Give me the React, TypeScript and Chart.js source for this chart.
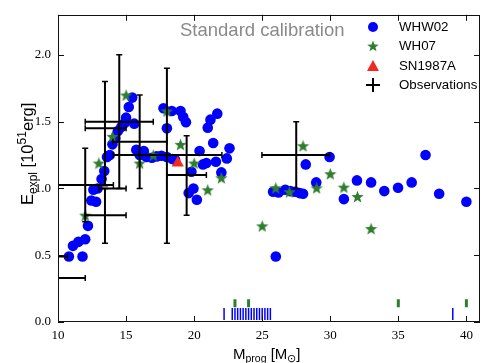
import React, { useEffect, useRef } from 'react';
import { Chart, registerables } from 'chart.js';

Chart.register(...registerables);

// WHW02 explosion energies (progenitor mass, energy)
const whwX = [10.8, 11.8, 11.1, 11.5, 12.0, 12.2, 12.45, 12.8, 12.6, 12.9, 13.2, 13.4, 13.6, 13.8, 14.0, 14.2, 14.4, 14.65, 14.9, 15.0, 15.6, 15.2, 15.45, 15.75, 16.0, 16.3, 16.5, 16.9, 17.25, 17.6, 18.0, 18.4, 18.6, 17.75, 18.36, 19.0, 19.2, 19.4, 18.0, 19.8, 19.95, 19.6, 20.2, 20.4, 20.65, 20.9, 21.6, 21.0, 21.2, 21.7, 21.4, 22.0, 22.4, 22.6, 25.8, 26.2, 26.7, 27.06, 27.4, 27.75, 28.0, 26.0, 28.2, 28.97, 29.95, 31.0, 31.96, 33.0, 33.97, 34.98, 35.98, 37.0, 38.0, 40.0];
const whwY = [0.49, 0.49, 0.57, 0.60, 0.62, 0.72, 0.91, 0.90, 0.99, 1.00, 1.07, 1.13, 1.235, 1.25, 1.33, 1.375, 1.43, 1.46, 1.49, 1.53, 1.485, 1.61, 1.68, 1.29, 1.25, 1.28, 1.235, 1.23, 1.24, 1.245, 1.235, 1.22, 1.215, 1.60, 1.58, 1.58, 1.535, 1.495, 1.45, 1.125, 1.0, 0.965, 0.915, 1.28, 1.18, 1.19, 1.20, 1.455, 1.515, 1.56, 1.34, 1.12, 1.225, 1.30, 0.975, 0.97, 0.99, 0.98, 0.975, 0.965, 0.96, 0.49, 1.18, 1.045, 1.235, 0.92, 1.06, 1.045, 0.98, 1.005, 1.045, 1.25, 0.96, 0.90];

// WH07 explosion energies
const whX = [12, 13, 14, 15, 16, 17, 18, 19, 20, 21, 22, 25, 26, 27, 28, 29, 30, 31, 32, 33];
const whY = [0.80, 1.19, 1.39, 1.70, 1.19, 1.25, 1.58, 1.33, 1.19, 0.99, 1.08, 0.72, 1.005, 0.975, 1.32, 1.005, 1.11, 1.01, 0.94, 0.70];

// SN1987A model
const snX = [18.8];
const snY = [1.19];

// Non-exploding models (rug ticks)
const whwFailX = [22.2, 22.8, 23.0, 23.2, 23.4, 23.6, 23.8, 24.0, 24.2, 24.4, 24.6, 24.8, 25.0, 25.2, 25.4, 25.6, 39.0];
const whFailX = [23, 24, 35, 40];
const whwFailLevel = 0.059;
const whFailLevel = 0.14;

// Observations with error ranges
const obsX = [14.5, 13.45, 12.0, 13.45, 18.0, 19.45, 16.0, 27.5, 14.0, 10.0, 9.5];
const obsXlo = [12.0, 12.0, 9.95, 12.0, 14.07, 18.0, 14.04, 24.98, 13.0, 8.0, 8.3];
const obsXhi = [17.0, 15.0, 14.07, 15.0, 22.04, 20.9, 18.0, 29.95, 15.0, 12.0, 10.7];
const obsY = [1.5, 1.45, 1.025, 0.80, 1.25, 1.10, 1.35, 1.25, 1.0, 0.33, 0.49];
const obsYlo = [1.0, 1.02, 0.75, 0.59, 0.59, 0.80, 1.0, 1.0, 1.0, 0.33, 0.49];
const obsYhi = [2.0, 1.80, 1.30, 1.0, 1.90, 1.395, 1.70, 1.50, 1.0, 0.33, 0.49];

const xTicks = [10, 15, 20, 25, 30, 35, 40];
const yTicks = [0, 0.5, 1.0, 1.5, 2.0];

const legendLabels = ['WHW02', 'WH07', 'SN1987A', 'Observations'];
const annotation = 'Standard calibration';

const BLUE = '#0000ff';
const GREEN = '#2f7d2f';
const RED = '#f02a1e';

function makeStar(size: number, color: string) {
  const c = document.createElement('canvas');
  c.width = size;
  c.height = size;
  const g = c.getContext('2d')!;
  drawStar(g, size / 2, size / 2 + size * 0.05, size / 2, color);
  return c;
}

function drawStar(g: CanvasRenderingContext2D, cx: number, cy: number, R: number, color: string) {
  const r = R * 0.42;
  g.fillStyle = color;
  g.beginPath();
  for (let i = 0; i < 10; i++) {
    const a = -Math.PI / 2 + (i * Math.PI) / 5;
    const rad = i % 2 === 0 ? R : r;
    g.lineTo(cx + rad * Math.cos(a), cy + rad * Math.sin(a));
  }
  g.closePath();
  g.fill();
}

type Part = { t: string; size: number; dy: number };

function drawRich(ctx: CanvasRenderingContext2D, parts: Part[], x: number, y: number, family: string) {
  let cx = x;
  for (const p of parts) {
    ctx.font = `${p.size}px ${family}`;
    ctx.fillText(p.t, cx, y + p.dy);
    cx += ctx.measureText(p.t).width;
  }
}

const overlayPlugin = {
  id: 'overlay',
  afterDraw(chart: any) {
    const { ctx, chartArea: a, scales } = chart;
    const sx = scales.x;
    const sy = scales.y;
    ctx.save();
    // spines
    ctx.strokeStyle = '#111';
    ctx.lineWidth = 1;
    ctx.strokeRect(Math.round(a.left) + 0.5, Math.round(a.top) + 0.5, Math.round(a.right - a.left) - 1, Math.round(a.bottom - a.top) - 1);
    // inward ticks
    ctx.beginPath();
    for (const v of xTicks) {
      const px = Math.round(sx.getPixelForValue(v)) + 0.5;
      ctx.moveTo(px, a.bottom);
      ctx.lineTo(px, a.bottom - 6);
      ctx.moveTo(px, a.top);
      ctx.lineTo(px, a.top + 6);
    }
    for (const v of yTicks) {
      const py = Math.round(sy.getPixelForValue(v)) + 0.5;
      ctx.moveTo(a.left, py);
      ctx.lineTo(a.left + 6, py);
      ctx.moveTo(a.right, py);
      ctx.lineTo(a.right - 6, py);
    }
    ctx.stroke();

    const sans = '"Liberation Sans", Arial, sans-serif';
    // annotation
    ctx.fillStyle = '#8a8a8a';
    ctx.font = `18.5px ${sans}`;
    ctx.textBaseline = 'middle';
    ctx.textAlign = 'left';
    ctx.fillText(annotation, 180, 31);

    // legend
    const mx = 373;
    const tx = 399;
    const rows = [27, 46, 66, 85];
    ctx.fillStyle = BLUE;
    ctx.beginPath();
    ctx.arc(mx, rows[0], 5, 0, Math.PI * 2);
    ctx.fill();
    drawStar(ctx, mx, rows[1] + 0.5, 6, GREEN);
    ctx.fillStyle = RED;
    ctx.beginPath();
    ctx.moveTo(mx, rows[2] - 6);
    ctx.lineTo(mx + 6, rows[2] + 5);
    ctx.lineTo(mx - 6, rows[2] + 5);
    ctx.closePath();
    ctx.fill();
    ctx.strokeStyle = '#000';
    ctx.lineWidth = 2;
    ctx.beginPath();
    ctx.moveTo(mx - 7, rows[3]);
    ctx.lineTo(mx + 7, rows[3]);
    ctx.moveTo(mx, rows[3] - 7);
    ctx.lineTo(mx, rows[3] + 7);
    ctx.stroke();
    ctx.fillStyle = '#000';
    ctx.font = `13.3px ${sans}`;
    legendLabels.forEach((l, i) => ctx.fillText(l, tx, rows[i]));

    // axis titles
    ctx.textBaseline = 'alphabetic';
    ctx.fillStyle = '#000';
    drawRich(ctx, [
      { t: 'M', size: 15, dy: 0 },
      { t: 'prog', size: 10.5, dy: 3 },
      { t: ' [M', size: 15, dy: 0 },
      { t: '\u2299', size: 10.5, dy: 3 },
      { t: ']', size: 15, dy: 0 },
    ], 233, 359, sans);

    ctx.save();
    ctx.translate(33, 205);
    ctx.rotate(-Math.PI / 2);
    drawRich(ctx, [
      { t: 'E', size: 16.5, dy: 0 },
      { t: 'expl', size: 12, dy: 3.5 },
      { t: ' [10', size: 16.5, dy: 0 },
      { t: '51', size: 12, dy: -7 },
      { t: 'erg]', size: 16.5, dy: 0 },
    ], 0, 0, sans);
    ctx.restore();

    ctx.restore();
  },
};

export default function App() {
  const ref = useRef<HTMLCanvasElement | null>(null);

  useEffect(() => {
    if (!ref.current) return;
    const star = makeStar(13, GREEN);

    const errCommon = {
      type: 'scatter',
      showLine: true,
      borderColor: '#000',
      borderWidth: 2,
      pointStyle: 'line',
      pointRadius: 3,
      pointBorderColor: '#000',
      pointBorderWidth: 1.5,
      backgroundColor: '#000',
      order: 0,
    };
    const errDatasets: any[] = [];
    obsX.forEach((x, i) => {
      if (obsXhi[i] > obsXlo[i]) {
        errDatasets.push({
          ...errCommon,
          data: [{ x: obsXlo[i], y: obsY[i] }, { x: obsXhi[i], y: obsY[i] }],
          pointRotation: 90,
        });
      }
      if (obsYhi[i] > obsYlo[i]) {
        errDatasets.push({
          ...errCommon,
          data: [{ x, y: obsYlo[i] }, { x, y: obsYhi[i] }],
          pointRotation: 0,
        });
      }
    });

    const chart = new Chart(ref.current, {
      type: 'scatter',
      data: {
        datasets: [
          ...errDatasets,
          {
            label: 'SN1987A',
            data: snX.map((x, i) => ({ x, y: snY[i] })),
            pointStyle: 'triangle',
            pointRadius: 7,
            backgroundColor: RED,
            borderColor: RED,
            borderWidth: 0,
            order: 1,
          },
          {
            label: 'WH07',
            data: whX.map((x, i) => ({ x, y: whY[i] })),
            pointStyle: star,
            order: 2,
          },
          {
            label: 'WHW02',
            data: whwX.map((x, i) => ({ x, y: whwY[i] })),
            pointStyle: 'circle',
            pointRadius: 5.3,
            backgroundColor: BLUE,
            borderColor: BLUE,
            borderWidth: 0,
            order: 3,
          },
          {
            label: 'WH07 fail',
            data: whFailX.map((x) => ({ x, y: whFailLevel })),
            pointStyle: 'line',
            pointRotation: 90,
            pointRadius: 4,
            borderColor: GREEN,
            pointBorderWidth: 3,
            order: 4,
          },
          {
            label: 'WHW02 fail',
            data: whwFailX.map((x) => ({ x, y: whwFailLevel })),
            pointStyle: 'line',
            pointRotation: 90,
            pointRadius: 6,
            borderColor: BLUE,
            pointBorderWidth: 1.5,
            order: 5,
          },
        ],
      },
      options: {
        animation: false,
        responsive: false,
        events: [],
        layout: { padding: { left: 0, top: 9, right: 10, bottom: 0 } },
        plugins: { legend: { display: false }, tooltip: { enabled: false } },
        scales: {
          x: {
            type: 'linear',
            min: 10,
            max: 41,
            grid: { display: false, drawTicks: false },
            border: { display: false },
            ticks: {
              stepSize: 5,
              includeBounds: false,
              padding: 6,
              color: '#000',
              font: { family: '"Liberation Serif", serif', size: 13 },
              callback: (v: any) => String(v),
            },
            afterFit: (s: any) => { s.height = 41; },
          },
          y: {
            type: 'linear',
            min: 0,
            max: 2.3,
            grid: { display: false, drawTicks: false },
            border: { display: false },
            ticks: {
              stepSize: 0.5,
              includeBounds: false,
              padding: 7,
              color: '#000',
              font: { family: '"Liberation Serif", serif', size: 13 },
              callback: (v: any) => Number(v).toFixed(1),
            },
            afterFit: (s: any) => { s.width = 58; },
          },
        },
      },
      plugins: [overlayPlugin],
    } as any);
    return () => chart.destroy();
  }, []);

  return (
    <div style={{ position: 'fixed', left: 0, top: 0, width: 490, height: 363, background: '#fff' }}>
      <canvas ref={ref} width={490} height={363} style={{ width: 490, height: 363, display: 'block' }} />
    </div>
  );
}
